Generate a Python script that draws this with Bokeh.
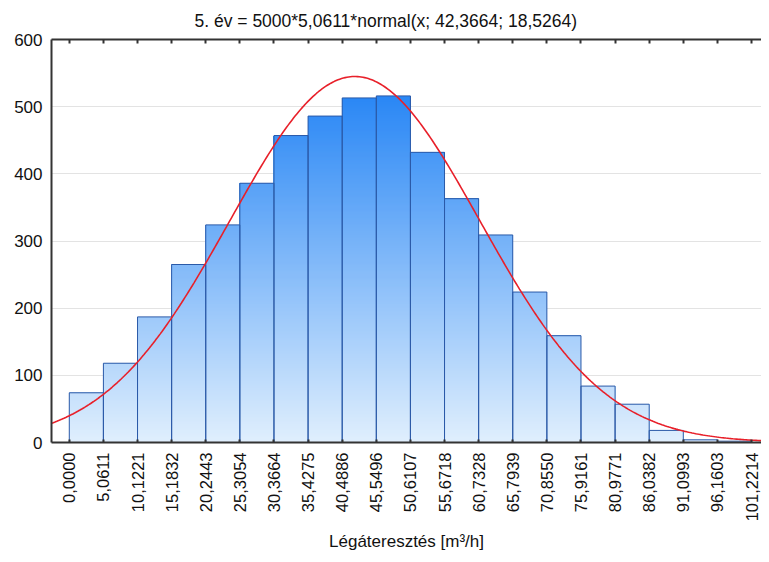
import numpy as np
from bokeh.plotting import figure
from bokeh.models import ColumnDataSource, FixedTicker, LinearAxis, Range1d
from bokeh.embed import file_html
from bokeh.resources import INLINE

# ---------------- data ----------------
title_text = "5. év = 5000*5,0611*normal(x; 42,3664; 18,5264)"
x_label = "Légáteresztés [m³/h]"
edge_labels = ["0,0000", "5,0611", "10,1221", "15,1832", "20,2443", "25,3054",
               "30,3664", "35,4275", "40,4886", "45,5496", "50,6107", "55,6718",
               "60,7328", "65,7939", "70,8550", "75,9161", "80,9771", "86,0382",
               "91,0993", "96,1603", "101,2214"]
counts = [74, 118, 187, 265, 324, 386, 457, 486, 513, 516,
          432, 363, 309, 224, 159, 84, 57, 18, 4, 2]
y_ticks = [0, 100, 200, 300, 400, 500, 600]
n_total = 5000
bin_width = 5.0611
mu = 42.3664
sigma = 18.5264

# ---------------- derived ----------------
edges = [float(s.replace(",", ".")) for s in edge_labels]
x_start, x_end = -2.64, 102.7
y_start, y_end = 0, 600

FONT = "Liberation Sans"

p = figure(width=761, height=554, output_backend="svg", toolbar_location=None,
           x_range=Range1d(x_start, x_end), y_range=Range1d(y_start, y_end),
           x_axis_location="below", y_axis_location="left",
           min_border_left=51, min_border_right=0, min_border_top=39,
           min_border_bottom=111)
p.outline_line_color = None
p.background_fill_color = "white"
p.border_fill_color = "white"

p.title.text = title_text
p.title.align = "left"
p.title.offset = 143
p.title.standoff = 17
p.title.text_font = FONT
p.title.text_font_size = "17.5px"
p.title.text_font_style = "normal"
p.title.text_color = "#111111"

# gradient bars: overlapping slices coloured by their height in the plot
c_low = np.array([224, 239, 253])
c_high = np.array([40, 134, 245])
g_top = 520.0
step = 1.5
L, R, B, T, C = [], [], [], [], []
for i, h in enumerate(counts):
    l, r = edges[i], edges[i + 1]
    y0 = 0.0
    while y0 < h:
        t = min((y0 + step / 2) / g_top, 1.0)
        col = c_low + (c_high - c_low) * t
        L.append(l); R.append(r); B.append(y0); T.append(h)
        C.append("#%02x%02x%02x" % tuple(int(round(v)) for v in col))
        y0 += step
p.quad(left="left", right="right", bottom="bottom", top="top", fill_color="color",
       line_color=None,
       source=ColumnDataSource(dict(left=L, right=R, bottom=B, top=T, color=C)))

# bar outlines
p.quad(left=edges[:-1], right=edges[1:], bottom=[0] * len(counts), top=counts,
       fill_color=None, line_color="#2b5aa8", line_width=1)

# fitted normal curve (from the title's parameters)
xs = np.linspace(x_start, x_end, 400)
ys = n_total * bin_width * np.exp(-0.5 * ((xs - mu) / sigma) ** 2) / (sigma * np.sqrt(2 * np.pi))
p.line(xs, ys, line_color="#e8202a", line_width=1.6)

# grid
p.xgrid.visible = False
p.ygrid.ticker = FixedTicker(ticks=y_ticks)
p.ygrid.grid_line_color = "#e3e3e3"
p.ygrid.grid_line_width = 1
p.ygrid.level = "underlay"

# bottom axis
xa = p.xaxis[0]
xa.ticker = FixedTicker(ticks=edges)
xa.major_label_overrides = {e: s for e, s in zip(edges, edge_labels)}
xa.major_label_orientation = np.pi / 2
xa.major_label_text_font = FONT
xa.major_label_text_font_size = "16.5px"
xa.major_label_text_color = "#111111"
xa.major_label_standoff = 10
xa.major_tick_in = 3
xa.major_tick_out = 0
xa.minor_tick_line_color = None
xa.axis_line_color = "#333333"
xa.axis_line_width = 2
xa.major_tick_line_color = "#333333"
xa.major_tick_line_width = 2
xa.axis_label = x_label
xa.axis_label_text_font = FONT
xa.axis_label_text_font_size = "17px"
xa.axis_label_text_font_style = "normal"
xa.axis_label_text_color = "#111111"
xa.axis_label_standoff = 8

# left axis
ya = p.yaxis[0]
ya.ticker = FixedTicker(ticks=y_ticks)
ya.major_label_text_font = FONT
ya.major_label_text_font_size = "17px"
ya.major_label_text_color = "#111111"
ya.major_label_standoff = 9
ya.major_tick_in = 0
ya.major_tick_out = 0
ya.minor_tick_line_color = None
ya.axis_line_color = "#333333"
ya.axis_line_width = 2

# top axis with inward ticks
ta = LinearAxis(ticker=FixedTicker(ticks=edges), major_label_text_font_size="0px",
                major_tick_in=4, major_tick_out=0, minor_tick_line_color=None,
                axis_line_color="#333333", axis_line_width=2,
                major_tick_line_color="#333333", major_tick_line_width=2,
                major_label_standoff=0)
ta.major_label_overrides = {e: "" for e in edges}
p.add_layout(ta, "above")

open("out.html", "w").write(file_html(p, INLINE))
